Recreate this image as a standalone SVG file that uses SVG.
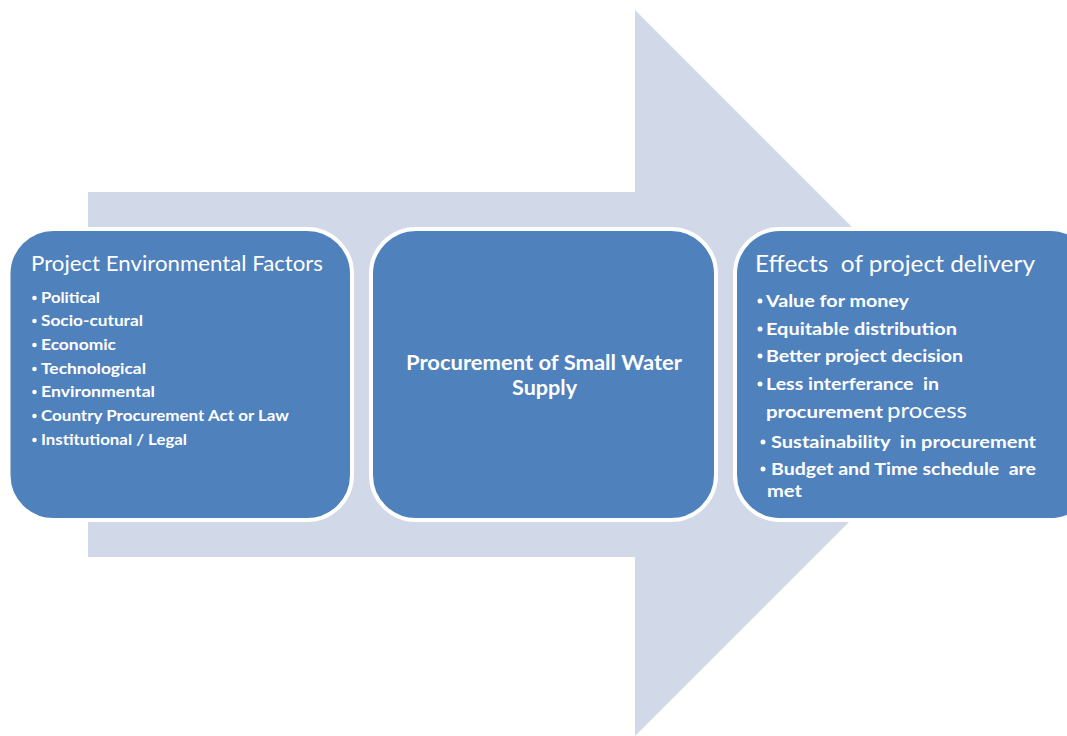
<svg xmlns="http://www.w3.org/2000/svg" width="1067" height="736" viewBox="0 0 1067 736">
<style>
.box{fill:#4F81BD;stroke:#FFFFFF;stroke-width:4}
.t{font-family:Lato,"Open Sans","Liberation Sans",sans-serif;fill:#FFFFFF}
.b{font-weight:bold}
</style>
<rect width="1067" height="736" fill="#FFFFFF"/>
<g id="arrow">
<polygon points="88,192 635,192 635,10 998,373 635,736 635,557 88,557" fill="#D1D9E8"/>
</g>
<g id="connectors"></g>
<g id="node-factors">
<rect class="box" x="8.5" y="229" width="343.5" height="291" rx="45" ry="45"/>
<text class="t" x="31" y="271" font-size="21" textLength="292" lengthAdjust="spacingAndGlyphs">Project Environmental Factors</text>
<g fill="#FFFFFF">
<circle cx="34.5" cy="298" r="2.3"/><circle cx="34.5" cy="321" r="2.3"/><circle cx="34.5" cy="345" r="2.3"/><circle cx="34.5" cy="369" r="2.3"/><circle cx="34.5" cy="392" r="2.3"/><circle cx="34.5" cy="416" r="2.3"/><circle cx="34.5" cy="440" r="2.3"/>
</g>
<g class="t b" font-size="16">
<text x="41" y="303" textLength="59" lengthAdjust="spacingAndGlyphs">Political</text>
<text x="41" y="326" textLength="102" lengthAdjust="spacingAndGlyphs">Socio-cutural</text>
<text x="41" y="350" textLength="75" lengthAdjust="spacingAndGlyphs">Economic</text>
<text x="41" y="374" textLength="105" lengthAdjust="spacingAndGlyphs">Technological</text>
<text x="41" y="397" textLength="114" lengthAdjust="spacingAndGlyphs">Environmental</text>
<text x="41" y="421" textLength="248" lengthAdjust="spacingAndGlyphs">Country Procurement Act or Law</text>
<text x="41" y="445" textLength="146" lengthAdjust="spacingAndGlyphs">Institutional / Legal</text>
</g>
</g>
<g id="node-procurement">
<rect class="box" x="371" y="229" width="345" height="291" rx="45" ry="45"/>
<text class="t b" x="406" y="370" font-size="20" textLength="276" lengthAdjust="spacingAndGlyphs">Procurement of Small Water</text>
<text class="t b" x="512" y="395" font-size="20" textLength="65" lengthAdjust="spacingAndGlyphs">Supply</text>
</g>
<g id="node-effects">
<rect class="box" x="735" y="229" width="360" height="291" rx="45" ry="45"/>
<text class="t" x="755" y="272" font-size="23" textLength="280" lengthAdjust="spacingAndGlyphs" xml:space="preserve">Effects  of project delivery</text>
<g fill="#FFFFFF">
<circle cx="760" cy="301" r="2.5"/><circle cx="760" cy="329" r="2.5"/><circle cx="760" cy="356" r="2.5"/><circle cx="760" cy="384" r="2.5"/><circle cx="763" cy="442" r="2.5"/><circle cx="763" cy="469" r="2.5"/>
</g>
<g class="t b" font-size="17.5">
<text x="766" y="307" textLength="143" lengthAdjust="spacingAndGlyphs">Value for money</text>
<text x="766" y="335" textLength="191" lengthAdjust="spacingAndGlyphs">Equitable distribution</text>
<text x="766" y="362" textLength="197" lengthAdjust="spacingAndGlyphs">Better project decision</text>
<text x="766" y="390" textLength="173" lengthAdjust="spacingAndGlyphs" xml:space="preserve">Less interferance  in</text>
<text x="766" y="418" textLength="117" lengthAdjust="spacingAndGlyphs">procurement</text>
<text x="771" y="448" textLength="265" lengthAdjust="spacingAndGlyphs" xml:space="preserve">Sustainability  in procurement</text>
<text x="771" y="475" textLength="265" lengthAdjust="spacingAndGlyphs" xml:space="preserve">Budget and Time schedule  are</text>
<text x="767" y="497" textLength="35" lengthAdjust="spacingAndGlyphs">met</text>
</g>
<text class="t" x="887" y="418" font-size="21" textLength="80" lengthAdjust="spacingAndGlyphs">process</text>
</g>
</svg>
